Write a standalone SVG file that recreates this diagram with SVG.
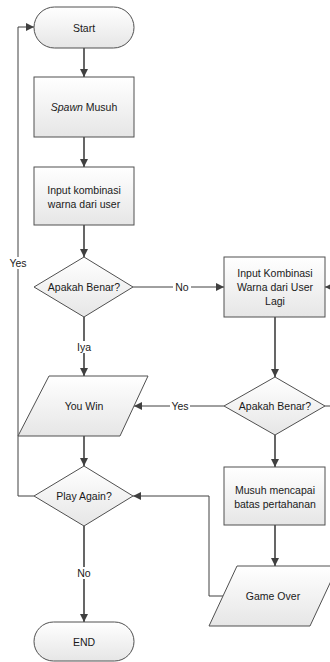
<svg xmlns="http://www.w3.org/2000/svg" width="330" height="662" viewBox="0 0 330 662">
<defs>
<linearGradient id="g" x1="0" y1="0" x2="0" y2="1">
<stop offset="0" stop-color="#ffffff"/>
<stop offset="1" stop-color="#e6e6e6"/>
</linearGradient>
<marker id="arr" viewBox="0 0 10 10" refX="10" refY="5" markerWidth="8" markerHeight="8" markerUnits="userSpaceOnUse" orient="auto">
<path d="M0,0 L10,5 L0,10 z" fill="#404040"/>
</marker>
<style>
.n{fill:url(#g);stroke:#505050;stroke-width:1}
.t{font-family:"Liberation Sans",Arial,sans-serif;font-size:10.5px;fill:#1a1a1a;text-anchor:middle;dominant-baseline:central}
.c{fill:none;stroke:#404040;stroke-width:1}
.v{fill:none;stroke:#404040;stroke-width:1.6}
.lb{font-family:"Liberation Sans",Arial,sans-serif;font-size:10.5px;fill:#1a1a1a;text-anchor:middle;dominant-baseline:central}
</style>
</defs>
<rect width="330" height="662" fill="#ffffff"/>
<g id="connectors">
<line class="v" x1="84" y1="48" x2="84" y2="77" marker-end="url(#arr)"/>
<line class="v" x1="84" y1="137" x2="84" y2="167" marker-end="url(#arr)"/>
<line class="v" x1="84" y1="225" x2="84" y2="257" marker-end="url(#arr)"/>
<line class="c" x1="133" y1="287" x2="224" y2="287" marker-end="url(#arr)"/>
<rect x="173" y="281" width="18" height="12" fill="#fff"/>
<text class="lb" x="182" y="287">No</text>
<line class="v" x1="84" y1="317" x2="84" y2="376" marker-end="url(#arr)"/>
<rect x="75" y="341" width="18" height="12" fill="#fff"/>
<text class="lb" x="84" y="347">Iya</text>
<line class="v" x1="275" y1="317" x2="275" y2="377" marker-end="url(#arr)"/>
<line class="c" x1="224" y1="406" x2="134" y2="406" marker-end="url(#arr)"/>
<rect x="170" y="400" width="20" height="12" fill="#fff"/>
<text class="lb" x="180" y="406">Yes</text>
<path class="c" d="M325,406 H340 V287 H325" marker-end="url(#arr)"/>
<line class="v" x1="84" y1="436" x2="84" y2="466" marker-end="url(#arr)"/>
<line class="v" x1="275" y1="435" x2="275" y2="467" marker-end="url(#arr)"/>
<line class="v" x1="275" y1="525" x2="275" y2="566" marker-end="url(#arr)"/>
<path class="c" d="M223,596 H209 V496 H133" marker-end="url(#arr)"/>
<path class="c" d="M34,496 H18 V27 H34" marker-end="url(#arr)"/>
<rect x="8" y="257" width="22" height="12" fill="#fff"/>
<text class="lb" x="18" y="263">Yes</text>
<line class="v" x1="84" y1="526" x2="84" y2="622" marker-end="url(#arr)"/>
<rect x="74" y="567" width="20" height="12" fill="#fff"/>
<text class="lb" x="84" y="573">No</text>
</g>
<g id="start">
<rect class="n" x="34" y="7" width="100" height="41" rx="20.5"/>
<text class="t" x="84" y="27.5">Start</text>
</g>
<g id="spawn">
<rect class="n" x="34" y="77" width="100" height="60"/>
<text class="t" x="84" y="107"><tspan font-style="italic">Spawn</tspan> Musuh</text>
</g>
<g id="input1">
<rect class="n" x="34" y="167" width="100" height="58"/>
<text class="t" x="84" y="190">Input kombinasi</text>
<text class="t" x="84" y="204">warna dari user</text>
</g>
<g id="decision1">
<polygon class="n" points="84,257 133,287 84,317 34,287"/>
<text class="t" x="84" y="287">Apakah Benar?</text>
</g>
<g id="input2">
<rect class="n" x="224" y="257" width="101" height="60"/>
<text class="t" x="275" y="273">Input Kombinasi</text>
<text class="t" x="275" y="287">Warna dari User</text>
<text class="t" x="275" y="301">Lagi</text>
</g>
<g id="decision2">
<polygon class="n" points="275,377 325,406 275,435 224,406"/>
<text class="t" x="275" y="406">Apakah Benar?</text>
</g>
<g id="youwin">
<polygon class="n" points="49,376 148,376 120,436 18,436"/>
<text class="t" x="84" y="406">You Win</text>
</g>
<g id="musuh">
<rect class="n" x="224" y="467" width="101" height="58"/>
<text class="t" x="275" y="490">Musuh mencapai</text>
<text class="t" x="275" y="504">batas pertahanan</text>
</g>
<g id="playagain">
<polygon class="n" points="84,466 133,496 84,526 34,496"/>
<text class="t" x="84" y="496">Play Again?</text>
</g>
<g id="gameover">
<polygon class="n" points="237,566 338,566 310,626 209,626"/>
<text class="t" x="273" y="596">Game Over</text>
</g>
<g id="end">
<rect class="n" x="34" y="622" width="100" height="39" rx="19.5"/>
<text class="t" x="84" y="641.5">END</text>
</g>
</svg>
